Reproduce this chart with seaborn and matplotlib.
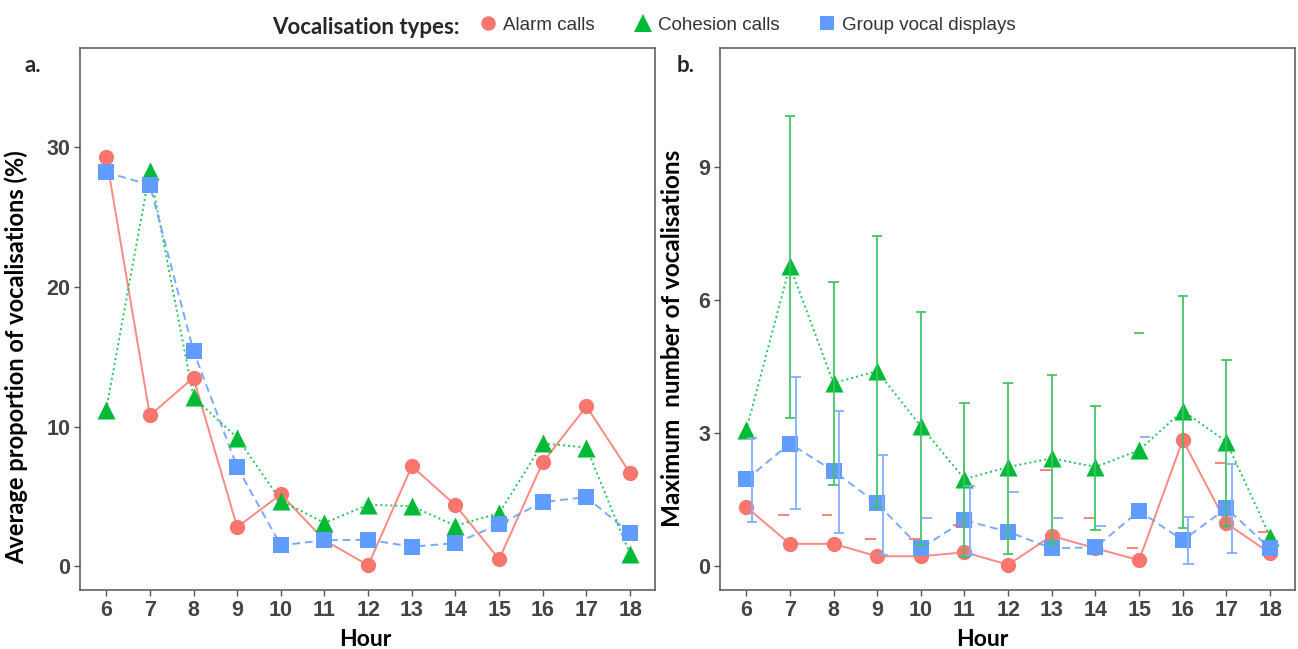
import numpy as np
import pandas as pd
import matplotlib
matplotlib.use("Agg")
import matplotlib.pyplot as plt
import seaborn as sns
from matplotlib.lines import Line2D

nan = np.nan
hours = [6, 7, 8, 9, 10, 11, 12, 13, 14, 15, 16, 17, 18]
types = ["Alarm calls", "Cohesion calls", "Group vocal displays"]

# panel a: average proportion of vocalisations (%)
prop_alarm = [29.3, 10.8, 13.5, 2.8, 5.15, 1.86, 0.07, 7.16, 4.37, 0.5, 7.44, 11.45, 6.66]
prop_cohesion = [11.2, 28.3, 12.1, 9.2, 4.7, 3.1, 4.4, 4.3, 2.9, 3.8, 8.8, 8.5, 0.85]
prop_group = [28.2, 27.3, 15.4, 7.1, 1.5, 1.86, 1.9, 1.4, 1.65, 3.0, 4.6, 4.95, 2.35]

# panel b: maximum number of vocalisations
max_alarm = [1.33, 0.5, 0.5, 0.22, 0.22, 0.31, 0.03, 0.68, 0.4, 0.13, 2.84, 0.96, 0.29]
max_cohesion = [3.06, 6.76, 4.12, 4.39, 3.15, 1.96, 2.23, 2.43, 2.23, 2.61, 3.5, 2.8, 0.66]
max_group = [1.95, 2.76, 2.14, 1.41, 0.4, 1.03, 0.77, 0.4, 0.42, 1.24, 0.58, 1.3, 0.4]

# panel b error bars (upper / lower; NaN lower -> only upper cap visible)
eb_alarm_hi = [nan, 1.15, 1.15, 0.6, 0.6, 0.92, nan, 2.16, 1.08, 0.41, nan, 2.31, 0.77]
eb_alarm_lo = [nan] * 13
eb_cohesion_hi = [nan, 10.13, 6.4, 7.43, 5.72, 3.67, 4.13, 4.3, 3.6, 5.24, 6.08, 4.64, nan]
eb_cohesion_lo = [nan, 3.33, 1.82, 1.33, 0.47, 0.2, 0.27, 0.49, 0.81, nan, 0.86, 0.9, nan]
eb_group_hi = [2.88, 4.25, 3.49, 2.5, 1.08, 1.8, 1.66, 1.08, 0.9, 2.9, 1.1, 2.3, nan]
eb_group_lo = [0.99, 1.28, 0.74, 0.25, nan, 0.25, nan, nan, nan, nan, 0.04, 0.3, nan]

colors = {"Alarm calls": "#F8766D", "Cohesion calls": "#00BA38", "Group vocal displays": "#619CFF"}
markers = {"Alarm calls": "o", "Cohesion calls": "^", "Group vocal displays": "s"}
dashes = {"Alarm calls": "", "Cohesion calls": (1, 1.6), "Group vocal displays": (4, 2.5)}
msizes = {"Alarm calls": 11, "Cohesion calls": 13, "Group vocal displays": 11}
dodge = {"Alarm calls": -0.15, "Cohesion calls": 0.0, "Group vocal displays": 0.13}
err_colors = {"Alarm calls": "#F8766D", "Cohesion calls": "#3DC462", "Group vocal displays": "#7FAEFF"}

df_a = pd.DataFrame({
    "hour": hours * 3,
    "value": prop_alarm + prop_cohesion + prop_group,
    "type": [t for t in types for _ in hours],
})
df_b = pd.DataFrame({
    "hour": hours * 3,
    "value": max_alarm + max_cohesion + max_group,
    "type": [t for t in types for _ in hours],
})
errs = {
    "Alarm calls": (eb_alarm_lo, eb_alarm_hi),
    "Cohesion calls": (eb_cohesion_lo, eb_cohesion_hi),
    "Group vocal displays": (eb_group_lo, eb_group_hi),
}

sns.set_theme(style="white")
plt.rcParams["font.family"] = ["Liberation Sans", "DejaVu Sans"]

fig = plt.figure(figsize=(12.98, 6.49), dpi=100)
ax1 = fig.add_axes([80 / 1298, 59 / 649, 575 / 1298, 542 / 649])
ax2 = fig.add_axes([720 / 1298, 59 / 649, 575 / 1298, 542 / 649])


def draw(ax, df):
    # lines
    sns.lineplot(data=df, x="hour", y="value", hue="type", style="type",
                 palette=colors, dashes=dashes, markers=False, linewidth=1.4,
                 legend=False, ax=ax, zorder=2, alpha=0.85)
    # points
    for t in types:
        sub = df[df["type"] == t]
        sns.scatterplot(x=sub["hour"], y=sub["value"], marker=markers[t],
                        color=colors[t], s=(msizes[t]) ** 2, linewidth=0,
                        legend=False, ax=ax, zorder=3)


draw(ax1, df_a)
draw(ax2, df_b)

# error bars for panel b
cap = 0.12
for t in types:
    lo, hi = errs[t]
    for h, l, u in zip(hours, lo, hi):
        x = h + dodge[t]
        if np.isnan(u):
            continue
        ax2.hlines(u, x - cap, x + cap, color=err_colors[t], lw=1.4, zorder=4, alpha=0.9)
        if not np.isnan(l):
            ax2.vlines(x, l, u, color=err_colors[t], lw=1.4, zorder=4, alpha=0.9)
            ax2.hlines(l, x - cap, x + cap, color=err_colors[t], lw=1.4, zorder=4, alpha=0.9)

tick_color = "#444444"
for ax in (ax1, ax2):
    ax.set_xlim(5.4, 18.57)
    ax.set_xticks(hours)
    ax.set_xticklabels([str(h) for h in hours])
    for s in ax.spines.values():
        s.set_color("#555555")
        s.set_linewidth(1.1)
    ax.tick_params(axis="both", which="both", direction="out", length=4, width=1,
                   color="#555555", labelcolor=tick_color, labelsize=15.5, pad=3,
                   bottom=True, left=True)
    ax.set_xlabel("Hour", fontsize=16.5, fontweight="bold", family=["Lato", "DejaVu Sans"], color="black")
    ax.grid(False)

ax1.set_ylim(-1.7, 37.1)
ax1.set_yticks([0, 10, 20, 30])
ax2.set_ylim(-0.54, 11.67)
ax2.set_yticks([0, 3, 6, 9])
for ax in (ax1, ax2):
    for lab in ax.get_xticklabels() + ax.get_yticklabels():
        lab.set_fontweight("bold")

ax1.set_ylabel("Average proportion of vocalisations (%)", fontsize=17, fontweight="bold",
               family=["Lato", "DejaVu Sans"], color="black")
ax2.set_ylabel("Maximum  number of vocalisations", fontsize=17.5, fontweight="bold",
               family=["Lato", "DejaVu Sans"], color="black")
ax1.yaxis.set_label_coords(-0.090, 0.43)
ax2.yaxis.set_label_coords(-0.062, 0.465)
ax1.xaxis.set_label_coords(0.496, -0.072)
ax2.xaxis.set_label_coords(0.457, -0.072)

fig.text(24 / 1298, 1 - 66 / 649, "a.", fontsize=16, fontweight="bold",
         family=["Lato", "DejaVu Sans"], va="center", ha="left")
fig.text(677 / 1298, 1 - 66 / 649, "b.", fontsize=16, fontweight="bold",
         family=["Lato", "DejaVu Sans"], va="center", ha="left")

# legend
fig.text(460 / 1298, 1 - 28 / 649, "Vocalisation types:", fontsize=16, fontweight="bold",
         family=["Lato", "DejaVu Sans"], va="center", ha="right")
handles = [Line2D([], [], linestyle="none", marker=markers[t], color=colors[t],
                  markersize=msizes[t] * 0.95, markeredgewidth=0) for t in types]
fig.legend(handles, types, loc="center left", bbox_to_anchor=(476 / 1298, 1 - 25 / 649),
           ncol=3, frameon=False, handletextpad=0.15, columnspacing=1.9, handlelength=1.3,
           borderaxespad=0, borderpad=0, prop={"size": 13.5, "family": ["Liberation Sans"]},
           labelcolor="#333333")

fig.savefig("out.png", dpi=100, facecolor="white")
